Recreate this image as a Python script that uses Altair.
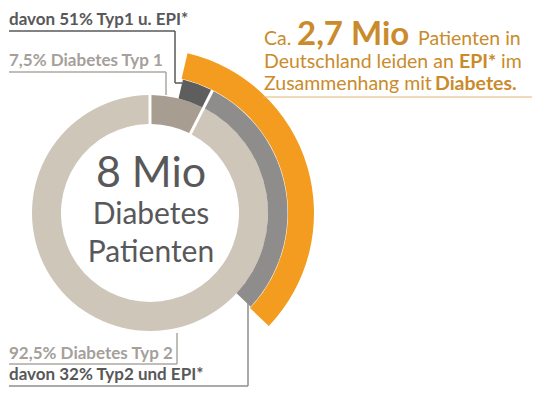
import math
import altair as alt
import pandas as pd

# ---------------- data ----------------
TOTAL_MIO = 8.0
TYPE_NAMES = ["Typ 1", "Typ 2"]
TYPE_SHARES = [7.5, 92.5]          # % of all diabetes patients
EPI_SHARES = [51, 32]              # % of each type with EPI
EPI_TOTAL_LABEL = "2,7 Mio"

# ---------------- derived segments ----------------
typ_mio = [TOTAL_MIO * s / 100 for s in TYPE_SHARES]
epi_mio = [typ_mio[i] * EPI_SHARES[i] / 100 for i in range(2)]

inner = pd.DataFrame({
    "seg": ["Typ 1", "Typ 2"],
    "start": [0.0, typ_mio[0]],
    "end": [typ_mio[0], TOTAL_MIO],
})
middle = pd.DataFrame({
    "seg": ["Typ 1 EPI", "Typ 2 EPI"],
    "start": [typ_mio[0] - epi_mio[0], typ_mio[0]],
    "end": [typ_mio[0], typ_mio[0] + epi_mio[1]],
})
outer = pd.DataFrame({
    "seg": ["EPI gesamt"],
    "start": [typ_mio[0] - epi_mio[0]],
    "end": [typ_mio[0] + epi_mio[1]],
})

# ---------------- layout / style ----------------
M = 8  # page margin
def px(v):
    return v - M

CX, CY = px(149), px(213)
SEG_DOMAIN = ["Typ 1", "Typ 2", "Typ 1 EPI", "Typ 2 EPI", "EPI gesamt"]
SEG_COLORS = ["#a89d91", "#cec6b9", "#5e5e5e", "#8f8d8c", "#f39c1f"]
FONT = "Lato"
DARK = "#58585a"
LIGHT = "#a5a09a"
GOLD = "#c98b2b"

theta_scale = alt.Scale(domain=[0, TOTAL_MIO], range=[0, 2 * math.pi])
color_scale = alt.Scale(domain=SEG_DOMAIN, range=SEG_COLORS)


def ring(df, r0, r1, pad):
    return alt.Chart(df).mark_arc(padAngle=pad, radius=r1, radius2=r0).encode(
        theta=alt.Theta("start:Q", stack=None, scale=theta_scale),
        theta2="end:Q",
        color=alt.Color("seg:N", scale=color_scale, legend=None),
        x=alt.value(CX),
        y=alt.value(CY),
    )


one = pd.DataFrame({"k": [0]})


def txt(text, x, y, size, weight="normal", color=DARK, align="left"):
    return alt.Chart(one).mark_text(
        text=text, font=FONT, fontSize=size, fontWeight=weight, color=color,
        align=align, baseline="alphabetic",
    ).encode(x=alt.value(px(x)), y=alt.value(px(y)))


def rule(x1, y1, x2, y2, color, w=1.5):
    return alt.Chart(one).mark_rule(color=color, strokeWidth=w).encode(
        x=alt.value(px(x1)), x2=alt.value(px(x2)),
        y=alt.value(px(y1)), y2=alt.value(px(y2)),
    )


def pct(v):
    return f"{v:g}%".replace(".", ",")


RS = 19.5  # right statement regular size

layers = [
    ring(inner, 89, 118, 0.02),
    ring(middle, 118, 137.5, 0.017),
    ring(outer, 138, 164, 0),
    # centre
    txt(f"{TOTAL_MIO:g} Mio", 150, 187, 43, color=DARK, align="center"),
    txt("Diabetes", 150, 224, 30, color=DARK, align="center"),
    txt("Patienten", 150, 262, 30, color=DARK, align="center"),
    # left labels
    txt(f"davon {EPI_SHARES[0]}% Typ1 u. EPI*", 8, 25, 17, "bold", DARK),
    rule(8, 31, 174, 31, DARK), rule(174, 31, 174, 83, DARK), rule(174, 83, 181, 83, DARK),
    txt(f"{pct(TYPE_SHARES[0])} Diabetes {TYPE_NAMES[0]}", 8, 66, 17, "bold", LIGHT),
    rule(8, 72, 165, 72, "#aca7a1"), rule(165, 72, 165, 95, "#aca7a1"),
    txt(f"{pct(TYPE_SHARES[1])} Diabetes {TYPE_NAMES[1]}", 8, 359, 17, "bold", LIGHT),
    rule(176, 333, 176, 364, "#aca7a1"), rule(8, 364, 176, 364, "#aca7a1"),
    txt(f"davon {EPI_SHARES[1]}% Typ2 und EPI*", 8, 380, 17, "bold", DARK),
    rule(247, 300, 247, 386, "#8e8e8e"), rule(8, 386, 247, 386, "#8e8e8e"),
    # right statement
    txt("Ca.", 263, 45, RS, color=GOLD),
    txt(EPI_TOTAL_LABEL, 296, 45, 33, "bold", GOLD),
    txt("Patienten in", 417, 45, RS, color=GOLD),
    txt("Deutschland leiden an", 263, 68, RS, color=GOLD),
    txt("EPI*", 458, 68, RS, "bold", GOLD),
    txt("im", 500, 68, RS, color=GOLD),
    txt("Zusammenhang mit", 263, 90, RS, color=GOLD),
    txt("Diabetes.", 434, 90, RS, "bold", GOLD),
    rule(262, 97, 532, 97, "#e2b574", 1),
]

chart = alt.layer(*layers).properties(
    width=524, height=380, padding=0,
    autosize=alt.AutoSizeParams(type="fit", contains="padding"),
).configure_view(stroke=None)

chart.save("out.html", embed_options={"renderer": "svg", "actions": False})
